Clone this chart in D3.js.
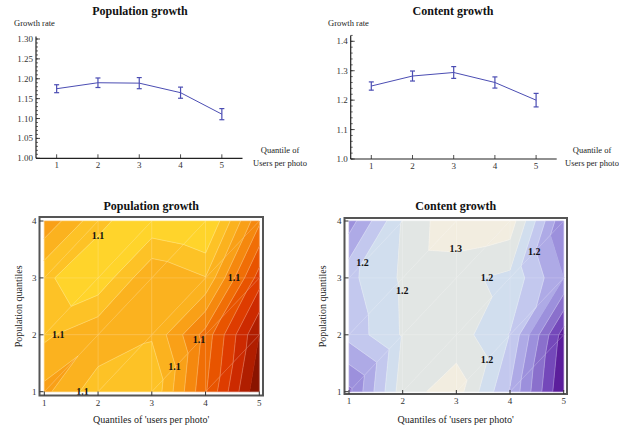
<!DOCTYPE html>
<html><head><meta charset="utf-8">
<script src="https://cdn.jsdelivr.net/npm/d3@7"></script>
<style>body{margin:0;background:#fff}svg{display:block}text{font-family:"Liberation Serif","Times New Roman",serif}</style>
</head><body>
<svg id="c" width="631" height="430"></svg>
<script>
// ---------- data ----------
const quantiles = [1, 2, 3, 4, 5];
const popGrowth = [1.175, 1.190, 1.189, 1.165, 1.111];
const popErr    = [0.010, 0.012, 0.014, 0.014, 0.014];
const contGrowth = [1.248, 1.282, 1.294, 1.260, 1.200];
const contErr    = [0.014, 0.017, 0.020, 0.019, 0.023];

const gridX = [1, 2, 3, 4, 5];
const gridY = [1, 2, 3, 4];
// rows: y = 1..4, columns: x = 1..5
const popZ = [
  [1.1173, 1.1366, 1.1390, 1.0910, 1.0410],
  [1.1321, 1.1216, 1.1288, 1.0960, 1.0500],
  [1.1381, 1.1479, 1.1205, 1.1295, 1.0750],
  [1.1120, 1.1372, 1.1483, 1.1536, 1.1020]
];
const popLevels = [1.05,1.06,1.07,1.08,1.09,1.10,1.11,1.12,1.13,1.14];
const popBandColors = ["#8a1400","#b01e00","#cc2a00","#de3c00","#e85400","#f06e06","#f5880e","#f9a017","#fbb21f","#fdc226","#ffd42b"];
const popLabels = [[2.0,3.74],[4.53,3.0],[1.26,2.0],[3.88,1.91],[3.42,1.44],[1.71,1.0]];

const contZ = [
  [1.1550, 1.2520, 1.2700, 1.1980, 1.1000],
  [1.2070, 1.2420, 1.2500, 1.2190, 1.1100],
  [1.2148, 1.2430, 1.2450, 1.2350, 1.1800],
  [1.1700, 1.2410, 1.2780, 1.2720, 1.1620]
];
const contLevels = [1.12,1.14,1.16,1.18,1.20,1.22,1.24,1.26];
const contBandColors = ["#5c1e9c","#7448ba","#8a70cc","#9c90dc","#aeaae6","#c3c8ee","#d1deee","#e2e6e4","#f2ede0"];
const contLabelsPos = [[1.25,3.27],[1.99,2.78],[2.99,3.52],[3.57,3.0],[4.45,3.46],[3.57,1.57]];
const contLabelText = ["1.2","1.2","1.3","1.2","1.2","1.2"];

const svg = d3.select("#c");
const lineColor = "#4b4db3";

// ---------- line charts ----------
function lineChart(o){
  const g = svg.append("g");
  const x = d3.scaleLinear().domain([0.5,5.5]).range(o.xr);
  const y = d3.scaleLinear().domain([1.0,o.ymax]).range(o.yr);
  g.append("line").attr("x1",x(0.5)).attr("x2",x(0.5)).attr("y1",y(1.0)).attr("y2",y(o.ytop)).attr("stroke","#222").attr("stroke-width",1.2);
  g.append("line").attr("x1",x(0.5)).attr("x2",x(5.5)).attr("y1",y(1.0)).attr("y2",y(1.0)).attr("stroke","#222").attr("stroke-width",1.2);
  o.minor.forEach(v=>{ g.append("line").attr("x1",x(0.5)).attr("x2",x(0.5)+2).attr("y1",y(v)).attr("y2",y(v)).attr("stroke","#222").attr("stroke-width",0.7); });
  o.major.forEach((v,i)=>{
    g.append("line").attr("x1",x(0.5)).attr("x2",x(0.5)+4).attr("y1",y(v)).attr("y2",y(v)).attr("stroke","#222").attr("stroke-width",0.8);
    g.append("text").attr("x",x(0.5)-3).attr("y",y(v)+3).attr("text-anchor","end").attr("font-size",9).attr("fill","#333").text(o.majorLab[i]);
  });
  quantiles.forEach(q=>{
    g.append("line").attr("x1",x(q)).attr("x2",x(q)).attr("y1",y(1.0)).attr("y2",y(1.0)-4).attr("stroke","#222").attr("stroke-width",0.8);
    g.append("text").attr("x",x(q)).attr("y",y(1.0)+10).attr("text-anchor","middle").attr("font-size",9).attr("fill","#333").text(q);
  });
  const line = d3.line().x((d,i)=>x(quantiles[i])).y(d=>y(d));
  g.append("path").attr("d",line(o.vals)).attr("fill","none").attr("stroke",lineColor).attr("stroke-width",1);
  o.vals.forEach((v,i)=>{
    const xx = x(quantiles[i]), e = o.err[i];
    g.append("line").attr("x1",xx).attr("x2",xx).attr("y1",y(v-e)).attr("y2",y(v+e)).attr("stroke",lineColor).attr("stroke-width",1.2);
    [v-e,v+e].forEach(w=> g.append("line").attr("x1",xx-2.5).attr("x2",xx+2.5).attr("y1",y(w)).attr("y2",y(w)).attr("stroke",lineColor).attr("stroke-width",1.2));
  });
  g.append("text").attr("x",o.titleX).attr("y",15).attr("text-anchor","middle").attr("font-size",12).attr("font-weight","bold").attr("fill","#111").text(o.title);
  g.append("text").attr("x",o.grX).attr("y",26).attr("font-size",8.5).attr("fill","#222").text("Growth rate");
  const lab = g.append("g").attr("clip-path", o.clip ? "url(#clipR)" : null);
  lab.append("text").attr("x",o.qX).attr("y",153).attr("text-anchor","middle").attr("font-size",8.5).attr("fill","#222").text("Quantile of");
  lab.append("text").attr("x",o.qX).attr("y",166).attr("text-anchor","middle").attr("font-size",8.5).attr("fill","#222").text("Users per photo");
}
svg.append("defs").append("clipPath").attr("id","clipR").append("rect").attr("x",0).attr("y",0).attr("width",619).attr("height",430);

lineChart({xr:[36,242.5], yr:[158.3,39], ymax:1.30, ytop:1.306, vals:popGrowth, err:popErr,
  major:[1.00,1.05,1.10,1.15,1.20,1.25,1.30], majorLab:["1.00","1.05","1.10","1.15","1.20","1.25","1.30"],
  minor:d3.range(1.0,1.3001,0.01), title:"Population growth", titleX:140, grX:14, qX:280});
lineChart({xr:[350.7,556.7], yr:[159,41.3], ymax:1.40, ytop:1.42, vals:contGrowth, err:contErr,
  major:[1.0,1.1,1.2,1.3,1.4], majorLab:["1.0","1.1","1.2","1.3","1.4"],
  minor:d3.range(1.0,1.4201,0.02), title:"Content growth", titleX:453, grX:328, qX:592, clip:true});

// ---------- contour plots (linear interpolation on triangulated grid) ----------
function clip(poly, lo, hi){
  function cut(p, keep, L){
    const out=[];
    for(let i=0;i<p.length;i++){
      const a=p[i], b=p[(i+1)%p.length];
      const ia = keep*(a.z-L)>=0, ib = keep*(b.z-L)>=0;
      if(ia) out.push(a);
      if(ia!==ib){ const t=(L-a.z)/(b.z-a.z); out.push({x:a.x+t*(b.x-a.x), y:a.y+t*(b.y-a.y), z:L}); }
    }
    return out;
  }
  let r = poly;
  if(lo!==null) r = cut(r, 1, lo);
  if(r.length && hi!==null) r = cut(r, -1, hi);
  return r;
}
function contourPlot(o){
  const g = svg.append("g");
  const x = d3.scaleLinear().domain([1,5]).range(o.xr);
  const y = d3.scaleLinear().domain([1,4]).range(o.yr);
  const Z = o.z, L = o.levels;
  const bands = [];
  for(let k=0;k<=L.length;k++) bands.push({lo:k===0?null:L[k-1], hi:k===L.length?null:L[k], color:o.colors[k]});
  const tris=[];
  for(let j=0;j<gridY.length-1;j++) for(let i=0;i<gridX.length-1;i++){
    const p00={x:gridX[i],y:gridY[j],z:Z[j][i]}, p10={x:gridX[i+1],y:gridY[j],z:Z[j][i+1]},
          p11={x:gridX[i+1],y:gridY[j+1],z:Z[j+1][i+1]}, p01={x:gridX[i],y:gridY[j+1],z:Z[j+1][i]};
    tris.push([p00,p10,p11],[p00,p11,p01]);
  }
  const path = d3.line().x(d=>x(d.x)).y(d=>y(d.y)).curve(d3.curveLinearClosed);
  tris.forEach(t=>{
    bands.forEach(b=>{
      const poly = clip(t,b.lo,b.hi);
      if(poly.length>=3) g.append("path").attr("d",path(poly)).attr("fill",b.color).attr("stroke",b.color).attr("stroke-width",0.6).attr("stroke-linejoin","round");
    });
  });
  const mesh = g.append("g").attr("stroke","#fff").attr("stroke-opacity",0.28).attr("stroke-width",0.6).attr("fill","none");
  gridX.forEach(v=> mesh.append("line").attr("x1",x(v)).attr("x2",x(v)).attr("y1",y(1)).attr("y2",y(4)));
  gridY.forEach(v=> mesh.append("line").attr("x1",x(1)).attr("x2",x(5)).attr("y1",y(v)).attr("y2",y(v)));
  for(let j=0;j<gridY.length-1;j++) for(let i=0;i<gridX.length-1;i++)
    mesh.append("line").attr("x1",x(gridX[i])).attr("y1",y(gridY[j])).attr("x2",x(gridX[i+1])).attr("y2",y(gridY[j+1]));
  const cl = g.append("g").attr("stroke","#fff").attr("stroke-opacity",0.4).attr("stroke-width",0.6).attr("fill","none");
  tris.forEach(t=>{
    L.forEach(lv=>{
      const pts=[];
      for(let e=0;e<3;e++){ const a=t[e], b=t[(e+1)%3];
        if((a.z-lv)*(b.z-lv)<0){ const s=(lv-a.z)/(b.z-a.z); pts.push({x:a.x+s*(b.x-a.x),y:a.y+s*(b.y-a.y)}); } }
      if(pts.length===2) cl.append("line").attr("x1",x(pts[0].x)).attr("y1",y(pts[0].y)).attr("x2",x(pts[1].x)).attr("y2",y(pts[1].y));
    });
  });
  o.labels.forEach((p,i)=> g.append("text").attr("x",x(p[0])).attr("y",y(p[1])+3.5).attr("text-anchor","middle").attr("font-size",10).attr("font-weight","bold").attr("fill","#111").text(o.labelText[i]));
  g.append("rect").attr("x",o.frame[0]).attr("y",o.frame[1]).attr("width",o.frame[2]-o.frame[0]).attr("height",o.frame[3]-o.frame[1])
    .attr("fill","none").attr("stroke","#555").attr("stroke-width",2);
  gridX.forEach(v=>{
    g.append("line").attr("x1",x(v)).attr("x2",x(v)).attr("y1",o.frame[3]).attr("y2",o.frame[3]-4).attr("stroke","#333");
    g.append("text").attr("x",x(v)).attr("y",o.frame[3]+10).attr("text-anchor","middle").attr("font-size",9).attr("fill","#333").text(v);
  });
  gridY.forEach(v=>{
    g.append("line").attr("x1",o.frame[0]).attr("x2",o.frame[0]+4).attr("y1",y(v)).attr("y2",y(v)).attr("stroke","#333");
    g.append("text").attr("x",o.frame[0]-3).attr("y",y(v)+3).attr("text-anchor","end").attr("font-size",9).attr("fill","#333").text(v);
  });
  const cx=(o.frame[0]+o.frame[2])/2;
  g.append("text").attr("x",cx).attr("y",210).attr("text-anchor","middle").attr("font-size",12).attr("font-weight","bold").attr("fill","#111").text(o.title);
  g.append("text").attr("x",cx).attr("y",423).attr("text-anchor","middle").attr("font-size",10).attr("fill","#222").text("Quantiles of 'users per photo'");
  g.append("text").attr("transform",`translate(${o.ytx},${(o.yr[0]+o.yr[1])/2}) rotate(-90)`).attr("text-anchor","middle").attr("font-size",10).attr("fill","#222").text("Population quantiles");
}
contourPlot({xr:[44.3,259.3], yr:[391.7,221], z:popZ, levels:popLevels, colors:popBandColors, labels:popLabels,
  labelText:popLabels.map(()=>"1.1"), frame:[39.5,217,263,395.5], title:"Population growth", ytx:22});
contourPlot({xr:[349,563.7], yr:[391.7,221], z:contZ, levels:contLevels, colors:contBandColors, labels:contLabelsPos,
  labelText:contLabelText, frame:[344.5,218,567,394], title:"Content growth", ytx:326});
</script>
</body></html>
